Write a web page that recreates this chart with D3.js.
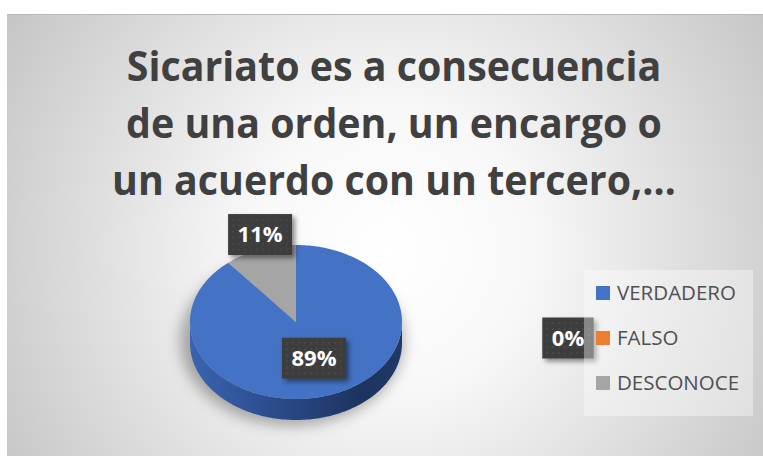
<!DOCTYPE html>
<html>
<head>
<meta charset="utf-8">
<script src="https://cdn.jsdelivr.net/npm/d3@7"></script>
<style>
  html, body { margin: 0; padding: 0; background: #ffffff; }
  svg { display: block; }
</style>
</head>
<body>
<div id="chart"></div>
<script>
// ---- data ----
const categories = ["VERDADERO", "FALSO", "DESCONOCE"];
const values = [89, 0, 11];
const colors = ["#4472C4", "#ED7D31", "#A5A5A5"];
const titleLines = ["Sicariato es a consecuencia", "de una orden, un encargo o", "un acuerdo con un tercero,…"];

// ---- layout ----
const W = 763, H = 456;
const svg = d3.select("#chart").append("svg").attr("width", W).attr("height", H);
const defs = svg.append("defs");

// background gradient
const bg = defs.append("radialGradient").attr("id", "bg")
  .attr("gradientUnits", "userSpaceOnUse")
  .attr("cx", 390).attr("cy", 250).attr("r", 470);
bg.append("stop").attr("offset", 0).attr("stop-color", "#ffffff");
bg.append("stop").attr("offset", 0.3).attr("stop-color", "#f8f8f8");
bg.append("stop").attr("offset", 1).attr("stop-color", "#c2c2c2");

// side gradient
const sg = defs.append("linearGradient").attr("id", "side")
  .attr("x1", 0).attr("x2", 1).attr("y1", 0).attr("y2", 0);
sg.append("stop").attr("offset", 0).attr("stop-color", "#3a64b0");
sg.append("stop").attr("offset", 0.35).attr("stop-color", "#2c4f91");
sg.append("stop").attr("offset", 0.8).attr("stop-color", "#1d345f");
sg.append("stop").attr("offset", 1).attr("stop-color", "#1f3866");

// dot pattern for labels
const pat = defs.append("pattern").attr("id", "dots")
  .attr("patternUnits", "userSpaceOnUse").attr("width", 6).attr("height", 6);
pat.append("rect").attr("width", 6).attr("height", 6).attr("fill", "#3d3d3d");
pat.append("circle").attr("cx", 3).attr("cy", 3).attr("r", 0.8).attr("fill", "#525252");

// filters
const f1 = defs.append("filter").attr("id", "pieShadow")
  .attr("x", "-30%").attr("y", "-30%").attr("width", "160%").attr("height", "160%");
f1.append("feGaussianBlur").attr("stdDeviation", 7);
const f2 = defs.append("filter").attr("id", "lblShadow")
  .attr("x", "-30%").attr("y", "-30%").attr("width", "160%").attr("height", "160%");
f2.append("feDropShadow").attr("dx", 3).attr("dy", 3).attr("stdDeviation", 2.5)
  .attr("flood-color", "#000").attr("flood-opacity", 0.45);

// chart area
svg.append("rect").attr("x", 7).attr("y", 14).attr("width", W - 7).attr("height", H - 14)
  .attr("fill", "url(#bg)");
svg.append("line").attr("x1", 7).attr("x2", W).attr("y1", 14.5).attr("y2", 14.5)
  .attr("stroke", "#b9b9b9").attr("stroke-width", 1);

// title
const titleG = svg.append("g");
const titleTexts = titleG.selectAll("text").data(titleLines).join("text")
  .attr("x", 0)
  .attr("y", (d, i) => 81 + i * 57)
  .attr("text-anchor", "middle")
  .attr("font-family", "'Open Sans', sans-serif")
  .attr("font-weight", 700)
  .attr("font-size", 42)
  .attr("fill", "#404040")
  .text(d => d);
let maxW = 0;
titleTexts.each(function () { maxW = Math.max(maxW, this.getComputedTextLength()); });
const sx = Math.min(1, 564 / maxW);
titleG.attr("transform", `translate(394,0) scale(${sx},1)`);

// pie geometry
const cx = 296, cy = 322, rx = 106, ry = 77, depth = 21;
const pie = d3.pie().sort(null).startAngle(0).endAngle(2 * Math.PI);
const arcs = pie(values);
const pt = (a, k = 1) => [cx + rx * k * Math.sin(a), cy - ry * k * Math.cos(a)];

function topPath(a0, a1) {
  const p = d3.path();
  p.moveTo(cx, cy);
  const n = Math.max(2, Math.ceil((a1 - a0) / 0.02));
  for (let i = 0; i <= n; i++) {
    const [x, y] = pt(a0 + (a1 - a0) * i / n);
    p.lineTo(x, y);
  }
  p.closePath();
  return p.toString();
}
function sidePath(a0, a1) {
  const s = Math.max(a0, Math.PI / 2), e = Math.min(a1, 3 * Math.PI / 2);
  if (e <= s) return null;
  const n = Math.max(2, Math.ceil((e - s) / 0.02));
  const top = [], bot = [];
  for (let i = 0; i <= n; i++) {
    const a = s + (e - s) * i / n;
    const [x, y] = pt(a);
    top.push([x, y]);
    bot.push([x, y + depth]);
  }
  return d3.line()(top.concat(bot.reverse())) + "Z";
}

// shadow
svg.append("ellipse").attr("cx", cx - 4).attr("cy", cy + depth - 2)
  .attr("rx", rx + 6).attr("ry", ry + 8)
  .attr("fill", "rgba(0,0,0,0.3)")
  .attr("filter", "url(#pieShadow)");

// sides
svg.append("g").selectAll("path")
  .data(arcs.filter(d => d.endAngle > d.startAngle && sidePath(d.startAngle, d.endAngle)))
  .join("path")
  .attr("d", d => sidePath(d.startAngle, d.endAngle))
  .attr("fill", d => d.index === 0 ? "url(#side)" : d3.color(colors[d.index]).darker(1.2));

// top faces
svg.append("g").selectAll("path")
  .data(arcs.filter(d => d.endAngle > d.startAngle))
  .join("path")
  .attr("d", d => topPath(d.startAngle, d.endAngle))
  .attr("fill", d => colors[d.index]);

// legend layout
const legX = 596, legY0 = 293, legStep = 45;

// data labels
const total = d3.sum(values);
function labelPos(d) {
  const share = d.value / total;
  const mid = (d.startAngle + d.endAngle) / 2;
  if (share === 0) return [legX - 28, legY0 + d.index * legStep];
  if (share < 0.2) { const [x, y] = pt(mid, 1); return [x, y - 15]; }
  return pt(mid, 0.5);
}
const lblG = svg.append("g");
arcs.forEach(d => {
  const [x, y] = labelPos(d);
  const txt = Math.round(d.value / total * 100) + "%";
  const g = lblG.append("g").attr("transform", `translate(${x},${y})`);
  const t = g.append("text").attr("x", 0).attr("y", 0).attr("dy", "0.36em")
    .attr("text-anchor", "middle")
    .attr("font-family", "'Open Sans', sans-serif").attr("font-weight", 700)
    .attr("font-size", 22).attr("fill", "#ffffff").text(txt);
  const w = t.node().getComputedTextLength() + 19;
  g.insert("rect", "text").attr("x", -w / 2).attr("y", -20.5)
    .attr("width", w).attr("height", 41)
    .attr("fill", "url(#dots)").attr("filter", "url(#lblShadow)");
});

// legend box
svg.append("rect").attr("x", 584).attr("y", 270).attr("width", 169).attr("height", 146)
  .attr("fill", "rgba(255,255,255,0.38)");

const leg = svg.append("g").selectAll("g").data(categories).join("g")
  .attr("transform", (d, i) => `translate(${legX},${legY0 + i * legStep})`);
leg.append("rect").attr("x", 0).attr("y", -7).attr("width", 14).attr("height", 14)
  .attr("fill", (d, i) => colors[i]);
leg.append("text").attr("x", 21).attr("y", 0).attr("dy", "0.36em")
  .attr("font-family", "'Open Sans', sans-serif").attr("font-size", 20.5)
  .attr("fill", "#505050").text(d => d);
</script>
</body>
</html>
